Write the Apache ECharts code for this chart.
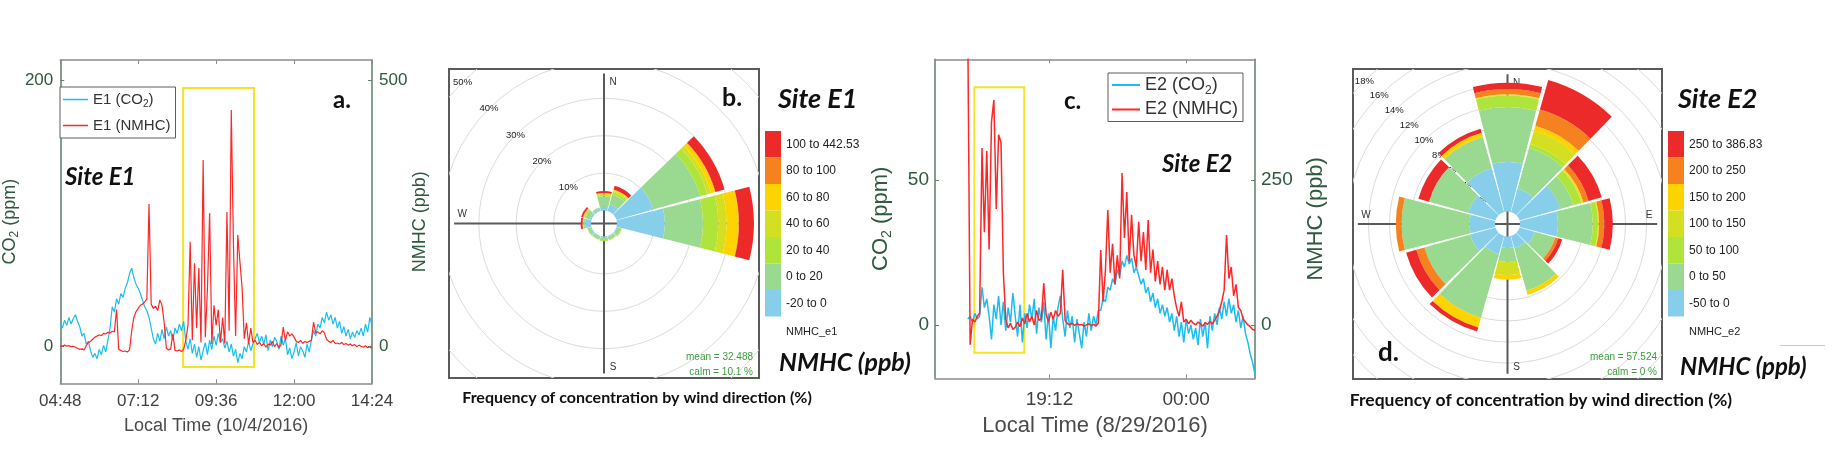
<!DOCTYPE html>
<html><head><meta charset="utf-8">
<script src="https://cdn.jsdelivr.net/npm/echarts@6/dist/echarts.min.js"></script>
<style>html,body{margin:0;padding:0;background:#fff}#c{width:1832px;height:461px}</style>
</head><body><div id="c"></div><script>
// ================= DATA =================
// Panel a: site E1, 10/4/2016, minutes after midnight, sampled every 4 min
const startA = 288, stepA = 4;
const co2A = [
 18,14,20,16,22,17,21,24,19,15,8,10,2,4,-3,
 -8,-5,-9,-2,-6,1,-4,5,14,30,26,36,32,40,37,
 44,48,55,59,52,47,44,40,35,30,27,22,14,6,2,
 10,4,13,6,15,8,12,5,14,10,17,12,19,4,-2,
 6,-5,2,-8,0,-10,-3,3,-6,5,-2,8,1,10,3,
 6,-1,4,-4,2,-7,-2,-12,-5,-9,0,-4,4,-3,2,
 6,10,3,8,2,9,-3,5,0,7,4,-2,8,1,6,
 -6,-1,-9,-4,3,-7,0,-3,-8,2,-4,5,12,8,17,
 14,22,18,26,20,24,17,22,14,19,10,15,8,13,6,
 11,7,12,9,14,8,17,11,22,16
];
const nmhcA = [
 2,1,3,1,2,0,1,-1,-3,-5,-4,-6,2,8,10,
 14,18,20,22,21,25,24,27,26,29,28,70,-5,-7,-9,
 -8,-10,-6,30,55,66,72,78,80,84,90,268,80,72,76,
 68,88,78,45,-3,-6,-4,24,-7,-8,-6,-9,-5,12,40,
 197,12,157,35,148,8,351,18,110,251,5,78,40,70,8,
 55,6,253,30,445,191,20,210,159,110,15,45,5,35,8,
 12,4,8,2,6,-1,5,3,10,0,6,-2,4,37,12,
 28,20,24,18,10,8,12,6,10,8,10,12,46,26,28,
 24,30,26,14,10,8,12,6,7,5,8,4,6,3,5,
 2,4,0,3,1,-1,2,-2,0,-3
];
// Panel c: site E2, 8/29/2016 (minutes after midnight of 8/29), every 5 min
const startC = 980, stepC = 5;
const co2C = [
 2,3,1,4,2,3,13,6,9,3,-5,7,
 2,10,0,8,-2,6,1,11,3,-4,7,-6,
 4,-1,7,2,9,-3,6,1,8,-5,4,-8,
 3,-2,6,10,2,-4,5,-1,3,-6,2,-3,
 -8,1,-4,4,-2,3,0,5,5,9,8,13,
 12,16,14,19,17,22,20,24,21,23,18,20,
 17,14,16,11,13,8,11,6,9,4,7,3,
 6,1,4,-2,3,-4,1,-6,2,-3,0,-5,
 -1,-7,2,-4,1,-8,3,-2,4,0,6,2,
 8,3,9,4,7,1,5,-1,3,-3,-6,-10,
 -13,-17
];
const nmhcC = [
 520,-34,10,5,15,20,305,160,300,130,350,388,
 200,328,315,90,10,-5,3,-8,-4,5,-3,12,
 2,20,5,15,0,25,8,10,72,18,5,22,
 10,25,15,20,95,8,2,0,3,-1,2,0,
 1,-2,0,2,-1,1,-2,3,129,40,95,198,
 90,140,70,120,80,262,150,229,110,190,120,100,
 178,110,160,95,181,90,130,75,110,70,100,60,
 95,60,80,50,29,15,40,5,10,2,8,3,
 0,5,2,-2,4,1,6,2,8,15,25,40,
 60,155,80,100,50,70,30,25,10,5,0,-3,
 -8,-9
];
const ticksA = [288, 432, 576, 720, 864];   // 04:48 ... 14:24
const ticksC = [1152, 1440];                // 19:12, 00:00
const yTicksCO2A = [0, 200], yTicksNMHCA = [0, 500];
const yTicksCO2C = [0, 50],  yTicksNMHCC = [0, 250];
// highlighted windows [time, NMHC]
const boxA = [[515, 486], [646, -38]];
const boxC = [[994, 410], [1099, -48]];

// Wind roses: frequency (%) per concentration bin (rows) and wind direction (cols)
const dirs = [0, 30, 60, 90, 120, 150, 180, 210, 240, 270, 300, 330];
const binsB = ['-20 to 0', '0 to 20', '20 to 40', '40 to 60', '60 to 80', '80 to 100', '100 to 442.53'];
const freqB = [
 [1.0, 1.9, 10.2, 12.8, 0.3, 0.3, 0.3, 0.3, 0.3, 1.5, 0.5, 0.4],
 [2.8, 2.6, 13.1, 10.2, 0.9, 0.7, 0.7, 0.7, 0.7, 0.5, 1.2, 0.6],
 [0.4, 0.8, 2.0, 4.1, 0.3, 0.2, 0.3, 0.1, 0.2, 0.1, 0.3, 0.0],
 [0.2, 0.3, 1.0, 2.2, 0, 0, 0, 0, 0, 0.1, 0.2, 0],
 [0.2, 0.4, 1.1, 3.2, 0, 0, 0, 0, 0, 0.1, 0.1, 0],
 [0.1, 0.0, 0.1, 0.1, 0, 0, 0, 0, 0, 0, 0.1, 0],
 [0.5, 1.0, 2.5, 4.0, 0, 0, 0, 0, 0, 0.5, 0.5, 0]
];
const binsD = ['-50 to 0', '0 to 50', '50 to 100', '100 to 150', '150 to 200', '200 to 250', '250 to 386.83'];
const freqD = [
 [4.7, 2.3, 4.0, 3.6, 1.5, 1.2, 1.1, 1.8, 2.5, 2.4, 2.7, 4.3],
 [5.2, 4.0, 1.3, 3.3, 2.0, 4.2, 1.3, 6.25, 4.5, 6.45, 3.85, 3.1],
 [1.1, 0.4, 0.8, 0.5, 0, 0, 0, 0, 0, 0, 0, 0],
 [0.05, 1.3, 0.1, 0.05, 0, 0, 1.25, 0, 0, 0, 0, 0],
 [0.05, 0.5, 0.1, 0.05, 0, 0.4, 0.45, 0.95, 0, 0, 0, 0.4],
 [0.5, 1.6, 0.5, 0.5, 0.3, 0, 0, 0, 0.8, 0.55, 0, 0],
 [0.6, 2.9, 1.3, 0.8, 0.4, 0, 0, 0.4, 1.0, 0, 1.05, 0.4]
];
const ringsB = [10, 20, 30, 40, 50];
const ringsD = [2, 4, 6, 8, 10, 12, 14, 16, 18];
const statsB = ['mean = 32.488', 'calm = 10.1 %'];
const statsD = ['mean = 57.524', 'calm = 0 %'];

// ================= STYLE =================
const F = '"Liberation Sans", Arial, sans-serif';
const FC = 'Lato, "Open Sans", sans-serif';
const BLUE = '#1bbdf0', RED = '#ff2626', YEL = '#f2e424';
const AX_G = '#5d7e6a', AX_X = '#8c8c8c', LAB_G = '#2f5940', LAB_X = '#404040';
const binColors = ['#87ceeb', '#9ada90', '#afe53a', '#d4df22', '#fdd400', '#f5821f', '#ec2a2a'];
const HALF = 14.2; // half sector width in degrees

function hhmm(t) { t = ((t % 1440) + 1440) % 1440; const h = Math.floor(t / 60), m = Math.round(t % 60);
  return String(h).padStart(2, '0') + ':' + String(m).padStart(2, '0'); }
function subFmt(n) { return n.replace('CO2', 'CO{s|2}'); }
function cumulate(freq) { const acc = new Array(freq[0].length).fill(0);
  return freq.map(row => row.map((v, i) => { const s = acc[i]; acc[i] += v; return [s, acc[i]]; })); }
function txt(x, y, text, font, fill, align, va) { align = align || 'left'; va = va || 'middle';
  return { type: 'text', x: x, y: y, silent: true, z: 50,
    style: { text: text, font: font, fill: fill || '#111', align: align, verticalAlign: va, textAlign: align, textVerticalAlign: va } }; }

function lineAxes(grid, xmin, xmax, xt, ymin, ymax, yt, y2min, y2max, y2t, o) {
  const xa = {
    gridIndex: grid, type: 'value', min: xmin, max: xmax, position: 'bottom',
    axisLine: { show: true, onZero: false, lineStyle: { color: AX_X, width: 1.5 } },
    axisTick: { show: true, inside: true, length: 4, customValues: xt, lineStyle: { color: AX_X } },
    axisLabel: { customValues: xt, formatter: hhmm, color: LAB_X, fontSize: o.tick, fontFamily: F, margin: o.xm },
    splitLine: { show: false },
    name: o.xname, nameLocation: 'middle', nameGap: o.xgap,
    nameTextStyle: { color: '#4a4a4a', fontSize: o.xnameSize, fontFamily: F }
  };
  const xt2 = {
    gridIndex: grid, type: 'value', min: xmin, max: xmax, position: 'top',
    axisLine: { show: true, onZero: false, lineStyle: { color: AX_X, width: 1.5 } },
    axisTick: { show: true, inside: true, length: 4, customValues: xt, lineStyle: { color: AX_X } },
    axisLabel: { show: false }, splitLine: { show: false }
  };
  const rich = { s: { fontSize: Math.round(o.ynameSize * 0.65), fontFamily: F, color: LAB_G, padding: [Math.round(o.ynameSize * 0.55), 0, 0, 0] } };
  const ya = {
    gridIndex: grid, type: 'value', min: ymin, max: ymax, position: 'left',
    axisLine: { show: true, onZero: false, lineStyle: { color: AX_G, width: 1.5 } },
    axisTick: { show: true, inside: true, length: 4, customValues: yt, lineStyle: { color: AX_G } },
    axisLabel: { customValues: yt, color: LAB_G, fontSize: o.tick, fontFamily: F, margin: o.ym },
    splitLine: { show: false },
    name: 'CO{s|2} (ppm)', nameLocation: 'middle', nameRotate: 90, nameGap: o.ygap,
    nameTextStyle: { color: LAB_G, fontSize: o.ynameSize, fontFamily: F, rich: rich }
  };
  const yb = {
    gridIndex: grid, type: 'value', min: y2min, max: y2max, position: 'right',
    axisLine: { show: true, onZero: false, lineStyle: { color: AX_G, width: 1.5 } },
    axisTick: { show: true, inside: true, length: 4, customValues: y2t, lineStyle: { color: AX_G } },
    axisLabel: { customValues: y2t, color: LAB_G, fontSize: o.tick, fontFamily: F, margin: o.ym },
    splitLine: { show: false },
    name: 'NMHC (ppb)', nameLocation: 'middle', nameRotate: 90, nameGap: o.y2gap,
    nameTextStyle: { color: LAB_G, fontSize: o.ynameSize, fontFamily: F }
  };
  return { x: [xa, xt2], y: [ya, yb] };
}

function roseSeries(ax, freq, bins, rings, offset) {
  const cum = cumulate(freq);
  const totals = cum[cum.length - 1].map(c => c[1]);
  const maxT = Math.max.apply(null, totals);
  const out = [];
  out.push({
    type: 'custom', name: 'rings' + ax, xAxisIndex: ax, yAxisIndex: ax, clip: true, silent: true, z: 1,
    data: rings.map(p => [p]),
    renderItem: function (params, api) {
      const c = api.coord([0, 0]); const p = api.value(0);
      const r = api.size([p + offset, 0])[0];
      return { type: 'group', children: [
        { type: 'circle', shape: { cx: c[0], cy: c[1], r: r }, style: { fill: 'none', stroke: '#dcdcdc', lineWidth: 1 } },
        { type: 'text', x: c[0] - r * Math.SQRT1_2, y: c[1] - r * Math.SQRT1_2,
          style: { text: p + '%', align: 'center', verticalAlign: 'middle', textAlign: 'center', textVerticalAlign: 'middle', fill: '#222', font: '9.5px ' + F } }
      ] };
    }
  });
  out.push({
    type: 'custom', name: 'frame' + ax, xAxisIndex: ax, yAxisIndex: ax, clip: true, silent: true, z: 2,
    data: [[maxT]],
    renderItem: function (params, api) {
      const c = api.coord([0, 0]); const R = api.size([api.value(0) + offset, 0])[0];
      const ls = { stroke: '#5a5a5a', lineWidth: 2 };
      const lab = (x, y, t) => ({ type: 'text', x: x, y: y, style: { text: t, align: 'center', verticalAlign: 'middle', textAlign: 'center', textVerticalAlign: 'middle', fill: '#333', font: '10px ' + F } });
      return { type: 'group', children: [
        { type: 'line', shape: { x1: c[0], y1: c[1] - R, x2: c[0], y2: c[1] + R }, style: ls },
        { type: 'line', shape: { x1: c[0] - R, y1: c[1], x2: c[0] + R, y2: c[1] }, style: ls },
        lab(c[0] + 9, c[1] - R + 9, 'N'), lab(c[0] + R - 8, c[1] - 9, 'E'),
        lab(c[0] + 9, c[1] + R - 6, 'S'), lab(c[0] - R + 8, c[1] - 9, 'W')
      ] };
    }
  });
  bins.forEach(function (b, bi) {
    out.push({
      type: 'custom', name: b, xAxisIndex: ax, yAxisIndex: ax, clip: true, silent: true, z: 3,
      itemStyle: { color: binColors[bi] },
      data: dirs.map((d, i) => [d, cum[bi][i][0], cum[bi][i][1]]),
      renderItem: function (params, api) {
        const v0 = api.value(1), v1 = api.value(2);
        if (v1 - v0 < 1e-6) return null;
        const c = api.coord([0, 0]);
        const r0 = api.size([v0 + offset, 0])[0], r = api.size([v1 + offset, 0])[0];
        const a = (api.value(0) - 90) * Math.PI / 180, h = HALF * Math.PI / 180;
        return { type: 'sector', shape: { cx: c[0], cy: c[1], r0: r0, r: r, startAngle: a - h, endAngle: a + h, clockwise: true },
          style: { fill: binColors[bi] } };
      }
    });
  });
  return out;
}

// ================= LAYOUT =================
const axA = lineAxes(0, 288, 864, ticksA, -27.5, 215.5, yTicksCO2A, -68.75, 538.75, yTicksNMHCA,
  { tick: 17, xm: 10, ym: 7, xname: 'Local Time (10/4/2016)', xgap: 34, xnameSize: 18, ygap: 20, y2gap: 19, ynameSize: 18 });
const axC = lineAxes(1, 911, 1585, ticksC, -18.4, 91.6, yTicksCO2C, -92, 458, yTicksNMHCC,
  { tick: 19, xm: 12, ym: 6, xname: 'Local Time (8/29/2016)', xgap: 37, xnameSize: 22, ygap: 41, y2gap: 50, ynameSize: 22 });

const kB = 3.74, kD = 10.55; // px per percent
const offB = 13 / kB, offD = 12.5 / kD;

const rich15 = { s: { fontSize: 10, fontFamily: F, color: '#333', padding: [9, 0, 0, 0] } };
const rich18 = { s: { fontSize: 12, fontFamily: F, color: '#333', padding: [11, 0, 0, 0] } };

const option = {
  animation: false,
  backgroundColor: '#fff',
  grid: [
    { left: 50, top: 60, width: 322, height: 323.3 },
    { left: 935, top: 59.3, width: 320, height: 319 },
    { left: 449, top: 69, width: 310, height: 309, show: true, borderColor: '#5a5a5a', borderWidth: 2, backgroundColor: '#fff' },
    { left: 1353, top: 69, width: 309, height: 310, show: true, borderColor: '#5a5a5a', borderWidth: 2, backgroundColor: '#fff' }
  ],
  xAxis: [axA.x[0], axA.x[1], axC.x[0], axC.x[1],
    { gridIndex: 2, type: 'value', min: -155 / kB, max: 155 / kB, show: false },
    { gridIndex: 3, type: 'value', min: -154.5 / kD, max: 154.5 / kD, show: false }],
  yAxis: [axA.y[0], axA.y[1], axC.y[0], axC.y[1],
    { gridIndex: 2, type: 'value', min: -154.5 / kB, max: 154.5 / kB, show: false },
    { gridIndex: 3, type: 'value', min: -155 / kD, max: 155 / kD, show: false }],
  legend: [
    { left: 60, top: 87, orient: 'vertical', data: ['E1 (CO2)', 'E1 (NMHC)'], formatter: subFmt, selectedMode: false,
      icon: 'rect', itemWidth: 25, itemHeight: 1.5,
      borderColor: '#5c5c5c', borderWidth: 1, backgroundColor: '#fff', padding: [5, 5, 5, 3], itemGap: 9,
      textStyle: { fontSize: 15, color: '#333', fontFamily: F, rich: rich15 } },
    { left: 1108, top: 73, orient: 'vertical', data: ['E2 (CO2)', 'E2 (NMHC)'], formatter: subFmt, selectedMode: false,
      icon: 'rect', itemWidth: 28, itemHeight: 2,
      borderColor: '#5c5c5c', borderWidth: 1, backgroundColor: '#fff', padding: [3, 5, 3, 4], itemGap: 4,
      textStyle: { fontSize: 18, color: '#333', fontFamily: F, rich: rich18 } },
    { left: 765, top: 131, orient: 'vertical', data: binsB.slice().reverse(), icon: 'rect', selectedMode: false,
      itemWidth: 16, itemHeight: 26.5, itemGap: 0, padding: 0, textStyle: { fontSize: 12, color: '#222', fontFamily: F } },
    { left: 1668, top: 131, orient: 'vertical', data: binsD.slice().reverse(), icon: 'rect', selectedMode: false,
      itemWidth: 16, itemHeight: 26.5, itemGap: 0, padding: 0, textStyle: { fontSize: 12, color: '#222', fontFamily: F } }
  ],
  series: [
    { type: 'line', name: 'E1 (CO2)', xAxisIndex: 0, yAxisIndex: 0, symbol: 'none', z: 2,
      data: co2A.map((v, i) => [startA + i * stepA, v]), lineStyle: { color: BLUE, width: 1.2 }, itemStyle: { color: BLUE } },
    { type: 'line', name: 'E1 (NMHC)', xAxisIndex: 0, yAxisIndex: 1, symbol: 'none', z: 3,
      data: nmhcA.map((v, i) => [startA + i * stepA, v]), lineStyle: { color: RED, width: 1.2 }, itemStyle: { color: RED },
      markArea: { silent: true, itemStyle: { color: 'rgba(0,0,0,0)', borderColor: YEL, borderWidth: 2 },
        data: [[{ coord: boxA[0] }, { coord: boxA[1] }]] } },
    { type: 'line', name: 'E2 (CO2)', xAxisIndex: 2, yAxisIndex: 2, symbol: 'none', z: 2,
      data: co2C.map((v, i) => [startC + i * stepC, v]), lineStyle: { color: BLUE, width: 1.5 }, itemStyle: { color: BLUE } },
    { type: 'line', name: 'E2 (NMHC)', xAxisIndex: 2, yAxisIndex: 3, symbol: 'none', z: 3,
      data: nmhcC.map((v, i) => [startC + i * stepC, v]), lineStyle: { color: RED, width: 1.5 }, itemStyle: { color: RED },
      markArea: { silent: true, itemStyle: { color: 'rgba(0,0,0,0)', borderColor: YEL, borderWidth: 2 },
        data: [[{ coord: boxC[0] }, { coord: boxC[1] }]] } }
  ].concat(roseSeries(4, freqB, binsB, ringsB, offB), roseSeries(5, freqD, binsD, ringsD, offD)),
  graphic: { elements: [
    txt(65, 177, 'Site E1', 'italic bold 24px ' + FC),
    txt(333, 100, 'a.', 'bold 24px ' + FC),
    txt(1064, 101, 'c.', 'bold 24px ' + FC),
    txt(1162, 164, 'Site E2', 'italic bold 24px ' + FC),
    txt(722, 98, 'b.', 'bold 25px ' + FC),
    txt(778, 99, 'Site E1', 'italic bold 27px ' + FC),
    txt(779, 363, 'NMHC (ppb)', 'italic bold 25px ' + FC),
    txt(786, 332, 'NMHC_e1', '11px ' + F, '#222'),
    txt(637, 398, 'Frequency of concentration by wind direction (%)', 'bold 16px ' + FC, '#111', 'center'),
    txt(753, 357, statsB[0], '10px ' + F, '#3c9c3c', 'right'),
    txt(753, 372, statsB[1], '10px ' + F, '#3c9c3c', 'right'),
    txt(1378, 353, 'd.', 'bold 26px ' + FC),
    txt(1678, 99, 'Site E2', 'italic bold 27px ' + FC),
    txt(1680, 367, 'NMHC (ppb)', 'italic bold 24px ' + FC),
    txt(1689, 332, 'NMHC_e2', '11px ' + F, '#222'),
    txt(1541, 400, 'Frequency of concentration by wind direction (%)', 'bold 17.5px ' + FC, '#111', 'center'),
    txt(1657, 357, statsD[0], '10px ' + F, '#3c9c3c', 'right'),
    txt(1657, 372, statsD[1], '10px ' + F, '#3c9c3c', 'right'),
    { type: 'line', silent: true, shape: { x1: 1780, y1: 345.5, x2: 1825, y2: 345.5 }, style: { stroke: '#c8c8c8', lineWidth: 1 } }
  ] }
};
const chart = echarts.init(document.getElementById('c'), null, { renderer: 'canvas' });
chart.setOption(option);
</script></body></html>
